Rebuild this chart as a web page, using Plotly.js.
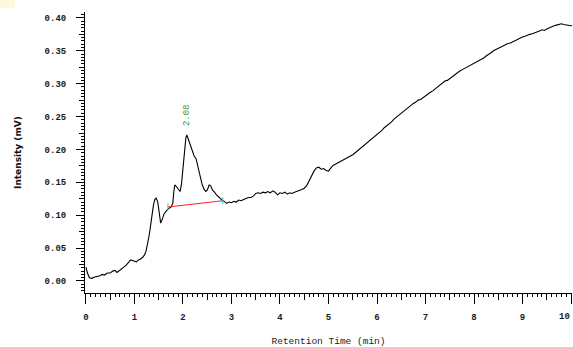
<!DOCTYPE html>
<html>
<head>
<meta charset="utf-8">
<script src="https://cdn.plot.ly/plotly-3.0.1.min.js"></script>
<style>html,body{margin:0;padding:0;background:#fff;}#chart{width:573px;height:347px;}</style>
</head>
<body>
<div id="chart"></div>
<script>
// Retention time (min)
const timeMin = [0.00,0.03,0.07,0.12,0.18,0.24,0.29,0.33,0.38,0.44,0.50,0.55,0.60,0.64,0.68,0.73,0.78,0.83,0.88,0.92,0.96,1.00,1.04,1.08,1.12,1.17,1.21,1.24,1.27,1.30,1.33,1.36,1.39,1.42,1.45,1.48,1.51,1.54,1.57,1.61,1.65,1.70,1.75,1.79,1.81,1.83,1.86,1.90,1.94,1.97,2.00,2.03,2.06,2.08,2.11,2.15,2.19,2.23,2.27,2.31,2.35,2.39,2.43,2.47,2.50,2.54,2.57,2.61,2.65,2.70,2.75,2.80,2.85,2.90,2.95,3.00,3.05,3.10,3.15,3.20,3.25,3.30,3.35,3.40,3.45,3.50,3.55,3.60,3.65,3.70,3.75,3.80,3.85,3.90,3.95,4.00,4.05,4.10,4.15,4.20,4.25,4.30,4.35,4.40,4.45,4.50,4.55,4.60,4.65,4.70,4.75,4.80,4.85,4.90,4.95,5.00,5.05,5.10,5.15,5.20,5.25,5.30,5.35,5.40,5.45,5.50,5.55,5.60,5.65,5.70,5.75,5.80,5.85,5.90,5.95,6.00,6.05,6.10,6.15,6.20,6.25,6.30,6.35,6.40,6.45,6.50,6.55,6.60,6.65,6.70,6.75,6.80,6.85,6.90,6.95,7.00,7.05,7.10,7.15,7.20,7.25,7.30,7.35,7.40,7.45,7.50,7.55,7.60,7.65,7.70,7.75,7.80,7.85,7.90,7.95,8.00,8.05,8.10,8.15,8.20,8.25,8.30,8.35,8.40,8.45,8.50,8.55,8.60,8.65,8.70,8.75,8.80,8.85,8.90,8.95,9.00,9.05,9.10,9.15,9.20,9.25,9.30,9.35,9.40,9.45,9.50,9.55,9.60,9.65,9.70,9.75,9.80,9.85,9.90,9.95,10.00,10.05,10.10];
// Intensity (mV)
const intensity = [0.021,0.012,0.005,0.004,0.006,0.007,0.008,0.010,0.009,0.012,0.012,0.015,0.016,0.013,0.015,0.018,0.021,0.024,0.029,0.032,0.031,0.030,0.029,0.032,0.033,0.036,0.040,0.046,0.056,0.068,0.083,0.101,0.115,0.124,0.126,0.120,0.100,0.088,0.093,0.102,0.106,0.110,0.112,0.118,0.135,0.146,0.144,0.140,0.136,0.148,0.175,0.205,0.218,0.222,0.215,0.205,0.196,0.190,0.186,0.172,0.160,0.148,0.140,0.136,0.138,0.146,0.145,0.138,0.135,0.130,0.127,0.123,0.121,0.118,0.120,0.119,0.121,0.120,0.123,0.122,0.124,0.126,0.127,0.127,0.129,0.133,0.134,0.133,0.135,0.134,0.136,0.134,0.137,0.135,0.131,0.134,0.133,0.135,0.132,0.134,0.133,0.135,0.136,0.137,0.139,0.141,0.145,0.152,0.160,0.167,0.172,0.173,0.170,0.171,0.168,0.167,0.172,0.176,0.178,0.180,0.181,0.183,0.185,0.187,0.190,0.192,0.195,0.198,0.202,0.204,0.207,0.211,0.213,0.217,0.220,0.223,0.226,0.229,0.233,0.236,0.238,0.242,0.246,0.249,0.252,0.256,0.258,0.262,0.265,0.268,0.270,0.272,0.275,0.276,0.279,0.281,0.285,0.287,0.289,0.292,0.296,0.299,0.302,0.304,0.305,0.308,0.311,0.313,0.316,0.319,0.321,0.323,0.325,0.327,0.328,0.330,0.332,0.334,0.337,0.339,0.342,0.344,0.347,0.350,0.352,0.354,0.355,0.357,0.359,0.361,0.362,0.364,0.366,0.367,0.369,0.371,0.372,0.374,0.375,0.376,0.377,0.378,0.380,0.382,0.381,0.383,0.385,0.386,0.388,0.389,0.390,0.391,0.390,0.389,0.389,0.388,0.388,0.388];
// Integration baseline for peak at 2.08 min
const baselineTime = [1.69, 2.82];
const baselineValue = [0.1125, 0.122];
const peakLabel = "2.08";
const peakTime = 2.08;
const lastXTick = 10;

const xr = [-0.02, 10.02];
const yr = [-0.0183, 0.409];
const monoFam = "Liberation Mono, DejaVu Sans Mono, monospace";
const tickFont = {family: monoFam, size: 9, color: "#1a1a1a", weight: "bold"};

const traces = [
  {x: timeMin, y: intensity, type: "scatter", mode: "lines",
   line: {color: "#000", width: 1.1}, hoverinfo: "skip"},
  {x: baselineTime, y: baselineValue, type: "scatter", mode: "lines",
   line: {color: "#ff2020", width: 1}, hoverinfo: "skip"},
  {x: baselineTime, y: baselineValue, type: "scatter", mode: "markers",
   marker: {symbol: "line-ns", size: 5, line: {color: "#20c8d8", width: 1}}, hoverinfo: "skip"},
  {x: [null], y: [null], xaxis: "x2", yaxis: "y2", type: "scatter", mode: "markers", hoverinfo: "skip"}
];

const layout = {
  width: 573, height: 347,
  margin: {l: 85, r: 1, t: 12, b: 54},
  paper_bgcolor: "#fff", plot_bgcolor: "#fff",
  showlegend: false,
  xaxis: {range: xr, tickmode: "linear", tick0: 0, dtick: 1,
    ticks: "outside", ticklen: 10, tickwidth: 1, tickcolor: "#000",
    showline: true, linecolor: "#000", linewidth: 1, showgrid: false, zeroline: false,
    tickfont: tickFont, ticklabelstandoff: 5, labelalias: {"10": " "},
    minor: {tick0: 0, dtick: 0.1, ticks: "outside", ticklen: 3, tickcolor: "#000", showgrid: false},
    title: {text: "Retention Time (min)", font: {family: monoFam, size: 9.5, color: "#222"}, standoff: 18}},
  xaxis2: {range: xr, overlaying: "x", anchor: "y", side: "bottom", tickmode: "linear", tick0: 0, dtick: 0.5,
    ticks: "outside", ticklen: 6, tickcolor: "#000", showticklabels: false, showline: false, showgrid: false, zeroline: false},
  yaxis: {range: yr, tickmode: "linear", tick0: 0, dtick: 0.05, tickformat: ".2f",
    ticks: "outside", ticklen: 8, tickwidth: 1, tickcolor: "#000",
    showline: true, linecolor: "#000", linewidth: 1, showgrid: false, zeroline: false,
    tickfont: tickFont, ticklabelstandoff: 8,
    minor: {tick0: 0, dtick: 0.005, ticks: "outside", ticklen: 3, tickcolor: "#000", showgrid: false},
    title: {text: "Intensity (mV)", font: {family: "DejaVu Sans, sans-serif", size: 9, color: "#111", weight: "bold"}, standoff: 21}},
  yaxis2: {range: yr, overlaying: "y", anchor: "x", side: "left", tickmode: "linear", tick0: 0, dtick: 0.025,
    ticks: "outside", ticklen: 5, tickcolor: "#000", showticklabels: false, showline: false, showgrid: false, zeroline: false},
  annotations: [
    {x: peakTime, y: 0.252, xref: "x", yref: "y", text: peakLabel, showarrow: false,
     textangle: -90, font: {family: monoFam, size: 9, color: "#3a9a3a"}},
    {x: lastXTick, y: 0, xref: "x", yref: "paper", text: String(lastXTick), showarrow: false,
     xanchor: "right", yanchor: "top", yshift: -17, xshift: 1, font: tickFont}
  ],
  shapes: [
    {type: "rect", xref: "paper", yref: "paper", x0: -85/487, x1: -70/487, y0: 1 + 12/281 - 8/281, y1: 1 + 12/281,
     fillcolor: "#fbf8dc", line: {width: 0}}
  ]
};

Plotly.newPlot("chart", traces, layout, {displayModeBar: false, staticPlot: true});
</script>
</body>
</html>
